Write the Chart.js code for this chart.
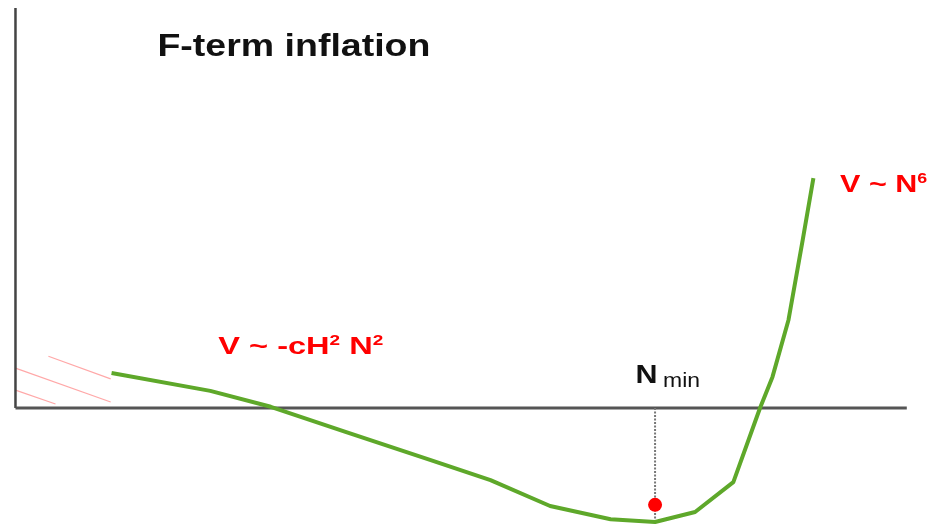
<!DOCTYPE html>
<html>
<head>
<meta charset="utf-8">
<script src="https://cdn.jsdelivr.net/npm/chart.js@4"></script>
<style>
  html, body { margin: 0; padding: 0; background: #fff; }
  #wrap { width: 935px; height: 526px; }
</style>
</head>
<body>
<div id="wrap"><canvas id="chart" width="935" height="526"></canvas></div>
<script>
// potential V(N) (arbitrary units)
const curveN = [1.08, 2.19, 2.87, 3.71, 4.66, 5.34, 6.01, 6.69, 7.19, 7.64, 8.07, 8.37, 8.51, 8.69, 8.85, 8.97];
const curveV = [0.88, 0.43, 0.03, -0.60, -1.30, -1.81, -2.46, -2.79, -2.86, -2.61, -1.86, 0.00, 0.78, 2.21, 4.22, 5.77];

const nMin = 7.19;
const vAtDot = -2.43;
const vAtMin = -2.86;

// pink hatching at the left end
const hatchN = [[0.37, 1.07], [0.00, 1.07], [0.00, 0.45]];
const hatchV = [[1.30, 0.73], [1.00, 0.15], [0.45, 0.10]];

// axes
const axisNEnd = 10.02;
const axisVTop = 10.04;

const xy = (xs, ys) => xs.map((x, i) => ({ x: x, y: ys[i] }));

// listed top layer first (Chart.js paints index 0 last)
const datasets = [];
datasets.push({
  data: xy([nMin], [vAtDot]),
  showLine: false, pointRadius: 7, pointBackgroundColor: '#ff0000', pointBorderWidth: 0
});
datasets.push({
  data: xy(curveN, curveV),
  showLine: true, borderColor: '#5ea82a', borderWidth: 4, pointRadius: 0,
  tension: 0, borderJoinStyle: 'round', borderCapStyle: 'butt'
});
datasets.push({
  data: xy([nMin, nMin], [0, vAtMin]),
  showLine: true, borderColor: '#777', borderWidth: 2, borderDash: [2, 1.5], pointRadius: 0
});
datasets.push({
  data: xy([0, axisNEnd], [0, 0]),
  showLine: true, borderColor: '#555', borderWidth: 3, pointRadius: 0
});
datasets.push({
  data: xy([0, 0], [0, axisVTop]),
  showLine: true, borderColor: '#444', borderWidth: 2.5, pointRadius: 0
});
hatchN.forEach((xs, i) => {
  datasets.push({
    data: xy(xs, hatchV[i]),
    showLine: true, borderColor: '#ffa8a8', borderWidth: 1.2,
    pointRadius: 0, tension: 0
  });
});

// text labels: anchored in data units, squeezed/stretched to the width seen in the picture
const labels = [
  { x: 1.596, y: 8.83, width: 273, color: '#111',
    parts: [{ t: 'F-term inflation', font: 'bold 32px "Liberation Sans"' }] },
  { x: 2.28, y: 1.355, width: 165, color: '#ff0000',
    parts: [
      { t: 'V ~ -cH', font: 'bold 24px "Liberation Sans"' },
      { t: '2', font: 'bold 14px "Liberation Sans"', dy: -9 },
      { t: ' N', font: 'bold 24px "Liberation Sans"' },
      { t: '2', font: 'bold 14px "Liberation Sans"', dy: -9 }
    ] },
  { x: 9.27, y: 5.42, width: 87, color: '#ff0000',
    parts: [
      { t: 'V ~ N', font: 'bold 24px "Liberation Sans"' },
      { t: '6', font: 'bold 14px "Liberation Sans"', dy: -9 }
    ] },
  { x: 6.97, y: 0.627, width: 22, color: '#111',
    parts: [{ t: 'N', font: 'bold 25px "Liberation Sans"' }] },
  { x: 7.28, y: 0.527, width: 37, color: '#111',
    parts: [{ t: 'min', font: '21px "Liberation Sans"' }] }
];

const textPlugin = {
  id: 'texts',
  afterDatasetsDraw(chart) {
    const { ctx, scales } = chart;
    labels.forEach(l => {
      let w = 0;
      l.parts.forEach(p => { ctx.font = p.font; w += ctx.measureText(p.t).width; });
      const sx = l.width / w;
      ctx.save();
      ctx.translate(scales.x.getPixelForValue(l.x), scales.y.getPixelForValue(l.y));
      ctx.scale(sx, 1);
      ctx.fillStyle = l.color;
      ctx.textBaseline = 'alphabetic';
      let cx = 0;
      l.parts.forEach(p => {
        ctx.font = p.font;
        ctx.fillText(p.t, cx, p.dy || 0);
        cx += ctx.measureText(p.t).width;
      });
      ctx.restore();
    });
  }
};

new Chart(document.getElementById('chart'), {
  type: 'scatter',
  data: { datasets: datasets },
  options: {
    responsive: false,
    animation: false,
    layout: { padding: 0, autoPadding: false },
    plugins: { legend: { display: false }, tooltip: { enabled: false } },
    scales: {
      x: { type: 'linear', display: false, min: -0.174, max: 10.337 },
      y: { type: 'linear', display: false, min: -2.961, max: 10.238 }
    }
  },
  plugins: [textPlugin]
});
</script>
</body>
</html>
